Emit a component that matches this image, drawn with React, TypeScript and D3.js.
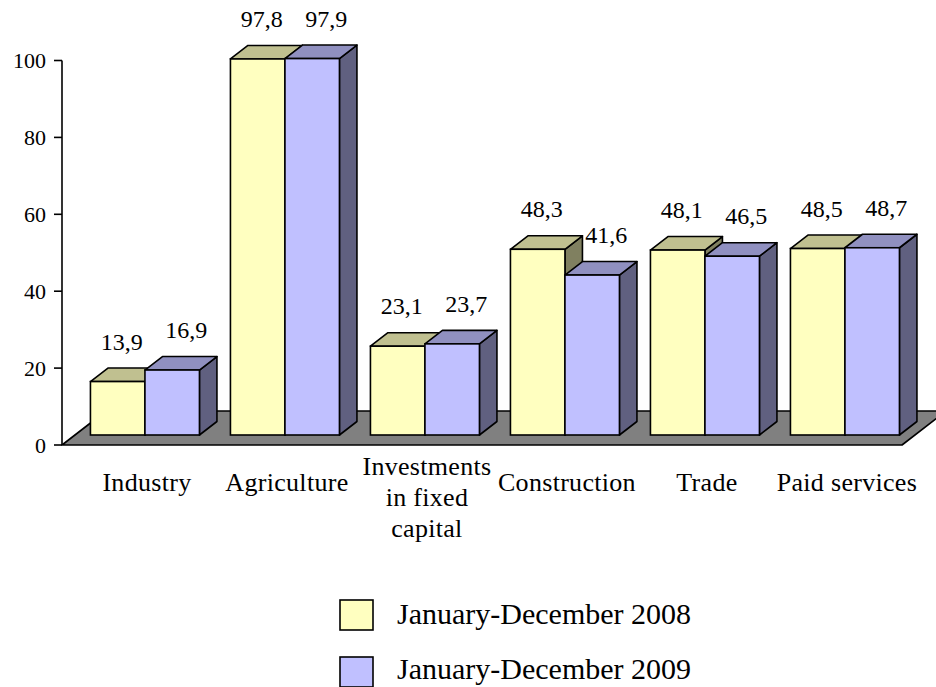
import React from "react";
import * as d3 from "d3";

// ---- data ----
const categories = ["Industry", "Agriculture", "Investments\nin fixed\ncapital", "Construction", "Trade", "Paid services"];
const seriesNames = ["January-December 2008", "January-December 2009"];
const values2008 = [13.9, 97.8, 23.1, 48.3, 48.1, 48.5];
const values2009 = [16.9, 97.9, 23.7, 41.6, 46.5, 48.7];
const yTicks = [0, 20, 40, 60, 80, 100];

// ---- layout / style ----
const W = 936;
const H = 687;
const FONT = "'Liberation Serif', 'Times New Roman', Times, serif";
const AXIS_X = 62;
const FLOOR_RIGHT = 902;
const Y0 = 445;
const Y100 = 60.5;
const FLOOR_DX = 44;
const FLOOR_DY = 34;
const BAR_SHIFT_Y = 10; // bars set back from floor front
const BAR_SHIFT_X = (FLOOR_DX * BAR_SHIFT_Y) / FLOOR_DY;
const DEPTH_DX = 17.5;
const DEPTH_DY = 13.5;

const palettes = [
  { front: "#FFFFC0", top: "#C0C090", side: "#808060" },
  { front: "#C0C0FF", top: "#9090C0", side: "#606080" },
];

const fmt = (v: number) => d3.format(".1f")(v).replace(".", ",");
const txt = (size: number): React.CSSProperties => ({ fontFamily: FONT, fontSize: `${size}px` });

export default function App() {
  const series = [values2008, values2009];
  const y = d3.scaleLinear().domain([0, 100]).range([Y0, Y100]);
  const yBar = (v: number) => y(v) - BAR_SHIFT_Y;
  const x = d3
    .scaleBand<string>()
    .domain(categories)
    .range([AXIS_X + BAR_SHIFT_X, FLOOR_RIGHT + BAR_SHIFT_X])
    .paddingInner(0.2214)
    .paddingOuter(0.1107);
  const bw = x.bandwidth() / 2;
  const stroke = "#000";
  const sw = 1.6;

  const floorPts = [
    [AXIS_X, Y0],
    [FLOOR_RIGHT, Y0],
    [FLOOR_RIGHT + FLOOR_DX, Y0 - FLOOR_DY],
    [AXIS_X + FLOOR_DX, Y0 - FLOOR_DY],
  ]
    .map((p) => p.join(","))
    .join(" ");

  return (
    <svg
      width={W}
      height={H}
      viewBox={`0 0 ${W} ${H}`}
      style={{ position: "absolute", left: 0, top: 0, background: "#fff" }}
    >
      {/* floor */}
      <polygon points={floorPts} fill="#808080" stroke={stroke} strokeWidth={1.6} strokeLinejoin="round" />

      {/* bars */}
      {categories.map((cat, i) => (
        <g key={cat}>
          {series.map((vals, s) => {
            const v = vals[i];
            const x0 = (x(cat) as number) + s * bw;
            const x1 = x0 + bw;
            const yt = yBar(v);
            const yb = yBar(0);
            const pal = palettes[s];
            const top = `${x0},${yt} ${x0 + DEPTH_DX},${yt - DEPTH_DY} ${x1 + DEPTH_DX},${yt - DEPTH_DY} ${x1},${yt}`;
            const side = `${x1},${yt} ${x1 + DEPTH_DX},${yt - DEPTH_DY} ${x1 + DEPTH_DX},${yb - DEPTH_DY} ${x1},${yb}`;
            return (
              <g key={s}>
                <polygon points={side} fill={pal.side} stroke={stroke} strokeWidth={sw} strokeLinejoin="round" />
                <polygon points={top} fill={pal.top} stroke={stroke} strokeWidth={sw} strokeLinejoin="round" />
                <rect x={x0} y={yt} width={bw} height={yb - yt} fill={pal.front} stroke={stroke} strokeWidth={sw} />
              </g>
            );
          })}
        </g>
      ))}

      {/* value labels */}
      {categories.map((cat, i) =>
        series.map((vals, s) => {
          const v = vals[i];
          const cx = (x(cat) as number) + s * bw + bw / 2 + 4 + 10 * s;
          return (
            <text key={`${cat}-${s}`} x={cx} y={yBar(v) - 40 + 8} style={txt(24)} textAnchor="middle" fill="#000">
              {fmt(v)}
            </text>
          );
        })
      )}

      {/* y axis */}
      <line x1={AXIS_X} x2={AXIS_X} y1={y(100)} y2={y(0)} stroke={stroke} strokeWidth={1.6} />
      {yTicks.map((t) => (
        <g key={t}>
          <line x1={AXIS_X - 8} x2={AXIS_X} y1={y(t)} y2={y(t)} stroke={stroke} strokeWidth={1.6} />
          <text x={AXIS_X - 16} y={y(t)} dy="0.35em" style={txt(22)} textAnchor="end" fill="#000">
            {t}
          </text>
        </g>
      ))}

      {/* category labels */}
      {categories.map((cat) => {
        const lines = cat.split("\n");
        const cx = (x(cat) as number) + x.bandwidth() / 2 + 2;
        const base = lines.length > 1 ? 475 : 491;
        return (
          <text key={cat} x={cx} style={{ ...txt(26), letterSpacing: "0.3px" }} textAnchor="middle" fill="#000">
            {lines.map((ln, k) => (
              <tspan key={k} x={cx} y={base + k * 31}>
                {ln}
              </tspan>
            ))}
          </text>
        );
      })}

      {/* legend */}
      {seriesNames.map((name, s) => (
        <g key={name}>
          <rect x={340} y={600 + s * 57} width={33} height={30} fill={palettes[s].front} stroke={stroke} strokeWidth={1.6} />
          <text x={397} y={624 + s * 55} style={txt(30)} fill="#000">
            {name}
          </text>
        </g>
      ))}
    </svg>
  );
}
